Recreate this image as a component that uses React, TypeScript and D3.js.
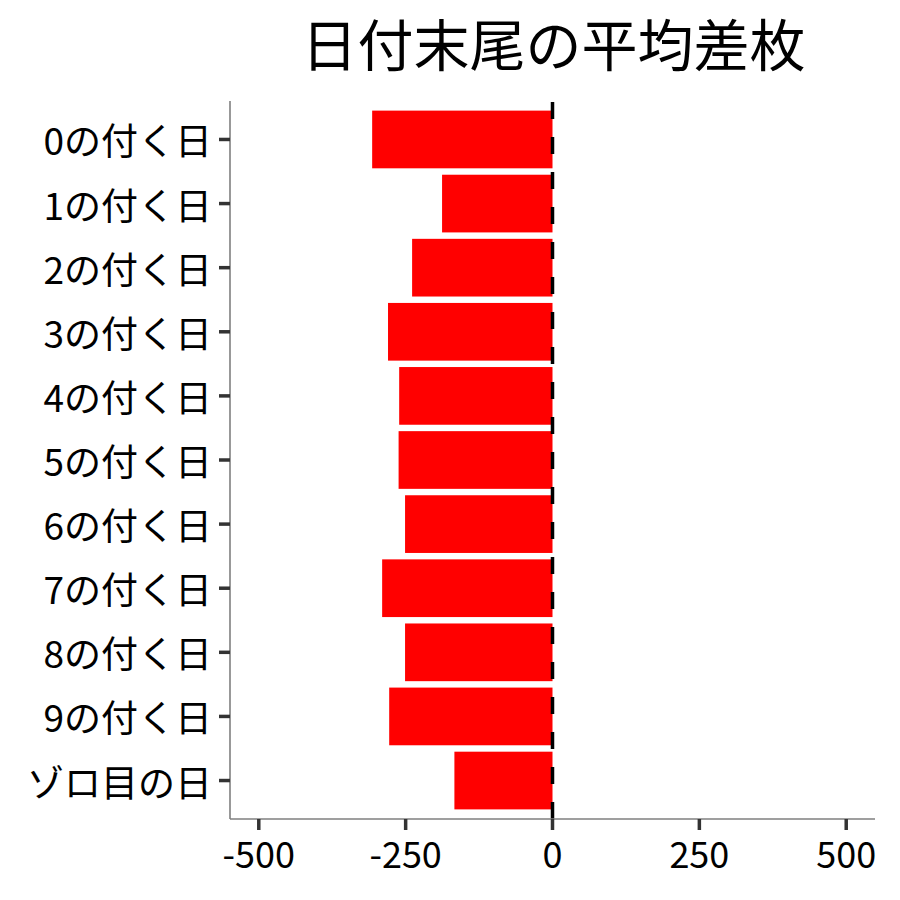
import React from 'react';
import * as d3 from 'd3';

// 日付末尾ごとの平均差枚
const categories = ['0の付く日', '1の付く日', '2の付く日', '3の付く日', '4の付く日', '5の付く日', '6の付く日', '7の付く日', '8の付く日', '9の付く日', 'ゾロ目の日'];
const values = [-307, -188, -239, -280, -261, -262, -251, -290, -251, -278, -167];
const xTicks = [-500, -250, 0, 250, 500];

const W = 900;
const H = 900;
const FONT = '"Noto Sans CJK JP", "Noto Sans", sans-serif';

const App: React.FC = () => {
  const margin = { top: 101, right: 25, bottom: 81, left: 230 };
  const x = d3.scaleLinear().domain([-549, 549]).range([margin.left, W - margin.right]);
  const y = d3.scaleBand<string>()
    .domain(categories)
    .range([margin.top, H - margin.bottom])
    .paddingInner(0.1)
    .paddingOuter(0.15);

  const bottom = H - margin.bottom;
  const x0 = x(0);

  return (
    <svg width={W} height={H} style={{ display: 'block', margin: '-8px' }} fontFamily={FONT}>
      <rect width={W} height={H} fill="#fff" />
      <text x={(margin.left + W - margin.right) / 2 + 1} y={66} textAnchor="middle" fontSize={56} fill="#000">
        日付末尾の平均差枚
      </text>

      {/* bars */}
      {categories.map((c, i) => (
        <rect
          key={c}
          x={x(Math.min(0, values[i]))}
          y={y(c)}
          width={Math.abs(x(values[i]) - x0)}
          height={y.bandwidth()}
          fill="#ff0000"
        />
      ))}

      {/* zero reference line */}
      <line x1={x0} x2={x0} y1={bottom} y2={margin.top} stroke="#000" strokeWidth={3.5} strokeDasharray="17 18" />

      {/* axes */}
      <line x1={margin.left} x2={margin.left} y1={margin.top} y2={bottom} stroke="#7f7f7f" strokeWidth={1.6} />
      <line x1={margin.left} x2={W - margin.right} y1={bottom} y2={bottom} stroke="#7f7f7f" strokeWidth={1.6} />

      {categories.map(c => {
        const cy = (y(c) ?? 0) + y.bandwidth() / 2;
        return (
          <g key={c}>
            <line x1={margin.left - 11} x2={margin.left} y1={cy} y2={cy} stroke="#333" strokeWidth={3.5} />
            <text x={margin.left - 18} y={cy} textAnchor="end" dominantBaseline="central" fontSize={37} fill="#000">
              {c}
            </text>
          </g>
        );
      })}

      {xTicks.map(t => (
        <g key={t}>
          <line x1={x(t)} x2={x(t)} y1={bottom} y2={bottom + 11} stroke="#333" strokeWidth={3.5} />
          <text x={x(t)} y={bottom + 49} textAnchor="middle" fontSize={36} fill="#000">
            {t}
          </text>
        </g>
      ))}
    </svg>
  );
};

export default App;
